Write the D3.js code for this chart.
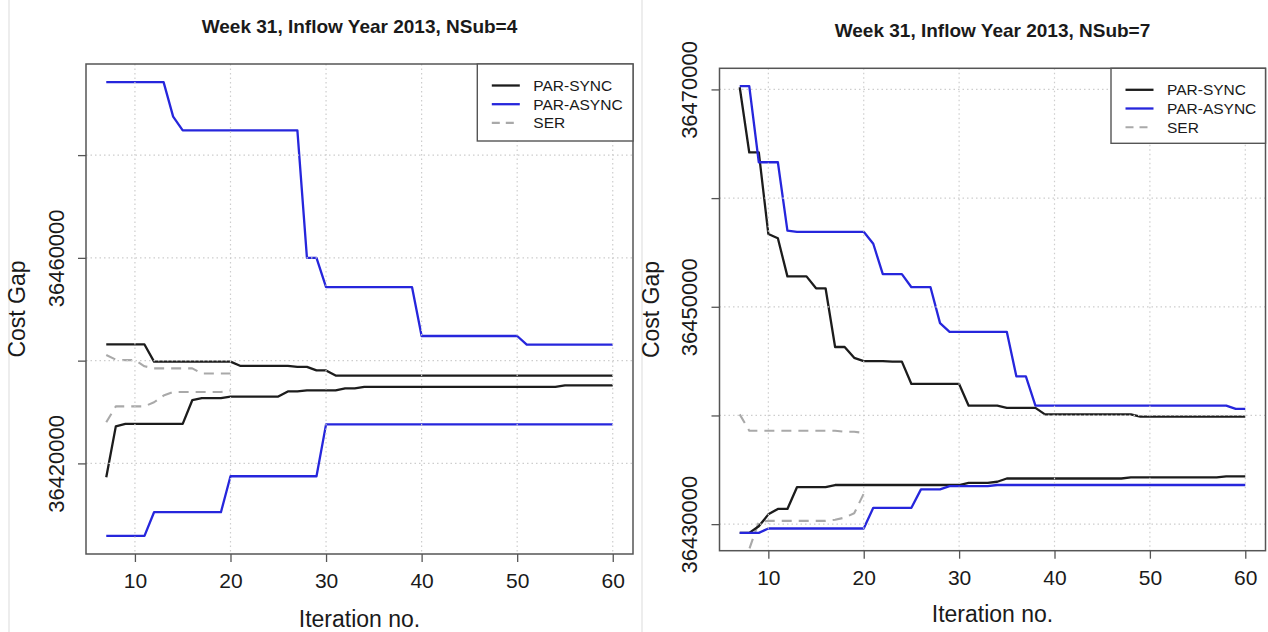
<!DOCTYPE html>
<html>
<head>
<meta charset="utf-8">
<script src="https://cdn.jsdelivr.net/npm/d3@7"></script>
<style>
  body { margin: 0; background: #fff; }
  text { font-family: "Liberation Sans", Arial, sans-serif; fill: #1a1a1a; }
</style>
</head>
<body>
<script>
let FRAME_WIDTH = 1268;
let FRAME_HEIGHT = 632;

// iteration numbers on the x axis
const ITER = [7, 8, 9, 10, 11, 12, 13, 14, 15, 16, 17, 18, 19, 20,
              21, 22, 23, 24, 25, 26, 27, 28, 29, 30, 31, 32, 33, 34, 35, 36, 37, 38, 39, 40,
              41, 42, 43, 44, 45, 46, 47, 48, 49, 50, 51, 52, 53, 54, 55, 56, 57, 58, 59, 60];
const SER_ITER = [7, 8, 9, 10, 11, 12, 13, 14, 15, 16, 17, 18, 19, 20];

// NSub=4 panel, upper and lower bounds per method
const L_SYNC_UP = [
  36443150, 36443150, 36443150, 36443150, 36443150,                                       // 7-11
  36439800, 36439800, 36439800, 36439800, 36439800, 36439800, 36439800, 36439800, 36439800, // 12-20
  36439000, 36439000, 36439000, 36439000, 36439000, 36439000,                             // 21-26
  36438800, 36438800, 36438100, 36438100,                                                 // 27-30
  36437100, 36437100, 36437100, 36437100, 36437100, 36437100, 36437100, 36437100, 36437100, 36437100,
  36437100, 36437100, 36437100, 36437100, 36437100, 36437100, 36437100, 36437100, 36437100, 36437100,
  36437100, 36437100, 36437100, 36437100, 36437100, 36437100, 36437100, 36437100, 36437100, 36437100];
const L_SYNC_LO = [
  36417300, 36427200,                                                     // 7-8
  36427700, 36427700, 36427700, 36427700, 36427700, 36427700, 36427700,   // 9-15
  36432300, 36432700, 36432700, 36432700,                                 // 16-19
  36433000, 36433000, 36433000, 36433000, 36433000, 36433000,             // 20-25
  36434000, 36434000, 36434200, 36434200, 36434200, 36434200,             // 26-31
  36434600, 36434600,                                                     // 32-33
  36434900, 36434900, 36434900, 36434900, 36434900, 36434900, 36434900,   // 34-40
  36434900, 36434900, 36434900, 36434900, 36434900, 36434900, 36434900, 36434900, 36434900, 36434900,
  36434900, 36434900, 36434900, 36434900,                                 // 51-54
  36435200, 36435200, 36435200, 36435200, 36435200, 36435200];            // 55-60
const L_ASYNC_UP = [
  36494200, 36494200, 36494200, 36494200, 36494200, 36494200, 36494200,   // 7-13
  36487500,                                                               // 14
  36484800, 36484800, 36484800, 36484800, 36484800, 36484800,             // 15-20
  36484800, 36484800, 36484800, 36484800, 36484800, 36484800, 36484800,   // 21-27
  36460000, 36460000,                                                     // 28-29
  36454300, 36454300, 36454300, 36454300, 36454300, 36454300, 36454300, 36454300, 36454300, 36454300,
  36444800, 36444800, 36444800, 36444800, 36444800, 36444800, 36444800, 36444800, 36444800, 36444800, 36444800,
  36443100, 36443100, 36443100, 36443100, 36443100, 36443100, 36443100, 36443100, 36443100, 36443100];
const L_ASYNC_LO = [
  36405900, 36405900, 36405900, 36405900, 36405900,                               // 7-11
  36410500, 36410500, 36410500, 36410500, 36410500, 36410500, 36410500, 36410500, // 12-19
  36417500, 36417500, 36417500, 36417500, 36417500, 36417500, 36417500, 36417500, 36417500, 36417500,
  36427600, 36427600, 36427600, 36427600, 36427600, 36427600, 36427600, 36427600, 36427600, 36427600, 36427600,
  36427600, 36427600, 36427600, 36427600, 36427600, 36427600, 36427600, 36427600, 36427600, 36427600,
  36427600, 36427600, 36427600, 36427600, 36427600, 36427600, 36427600, 36427600, 36427600, 36427600];
const L_SER_UP = [36441100, 36440200, 36440100, 36440100, 36438900, 36438500, 36438500,
                  36438500, 36438500, 36438500, 36437500, 36437500, 36437500, 36437500];
const L_SER_LO = [36428000, 36431100, 36431100, 36431100, 36431100, 36431900, 36433200,
                  36433900, 36433900, 36433900, 36433900, 36433900, 36433900, 36434200];

// NSub=7 panel
const R_SYNC_UP = [
  36470200, 36464200, 36464200, 36456700, 36456300,   // 7-11
  36452800, 36452800, 36452800, 36451700, 36451700,   // 12-16
  36446300, 36446300, 36445300, 36445000, 36445000,   // 17-21
  36445000, 36444950, 36444950, 36442900, 36442900,   // 22-26
  36442900, 36442900, 36442900, 36442900, 36440900,   // 27-31
  36440900, 36440900, 36440900, 36440700, 36440700,   // 32-36
  36440700, 36440700, 36440100, 36440100, 36440100,   // 37-41
  36440100, 36440100, 36440100, 36440100, 36440100,   // 42-46
  36440100, 36440100, 36439900, 36439900, 36439900,   // 47-51
  36439900, 36439900, 36439900, 36439900, 36439900, 36439900, 36439900, 36439900, 36439900];
const R_SYNC_LO = [
  36429200, 36429200, 36429800, 36430900, 36431400,   // 7-11
  36431400, 36433400, 36433400, 36433400, 36433400,   // 12-16
  36433600, 36433600, 36433600, 36433600, 36433600, 36433600, 36433600,   // 17-23
  36433600, 36433600, 36433600, 36433600, 36433600, 36433600, 36433600,   // 24-30
  36433800, 36433800, 36433800, 36433900,                                 // 31-34
  36434200, 36434200, 36434200, 36434200, 36434200, 36434200, 36434200,
  36434200, 36434200, 36434200, 36434200, 36434200, 36434200,             // 35-47
  36434300, 36434300, 36434300, 36434300, 36434300, 36434300, 36434300, 36434300, 36434300, 36434300,
  36434400, 36434400, 36434400];                                          // 58-60
const R_ASYNC_UP = [
  36470300, 36470300, 36463300, 36463300, 36463300,   // 7-11
  36457000, 36456900, 36456900, 36456900, 36456900, 36456900, 36456900, 36456900, 36456900, // 12-20
  36455800, 36453000, 36453000, 36453000,             // 21-24
  36451800, 36451800, 36451800, 36448500,             // 25-28
  36447700, 36447700, 36447700, 36447700, 36447700, 36447700, 36447700,   // 29-35
  36443600, 36443600,                                 // 36-37
  36440900, 36440900, 36440900, 36440900, 36440900, 36440900, 36440900,
  36440900, 36440900, 36440900, 36440900, 36440900, 36440900, 36440900,
  36440900, 36440900, 36440900, 36440900, 36440900, 36440900, 36440900,   // 38-58
  36440600, 36440600];
const R_ASYNC_LO = [
  36429200, 36429200, 36429200,                                           // 7-9
  36429600, 36429600, 36429600, 36429600, 36429600, 36429600, 36429600, 36429600, 36429600, 36429600, 36429600,
  36431500, 36431500, 36431500, 36431500, 36431500,                       // 21-25
  36433200, 36433200, 36433200,                                           // 26-28
  36433500, 36433500, 36433500, 36433500, 36433500,                       // 29-33
  36433600, 36433600, 36433600, 36433600, 36433600, 36433600, 36433600, 36433600, 36433600,
  36433600, 36433600, 36433600, 36433600, 36433600, 36433600, 36433600, 36433600, 36433600,
  36433600, 36433600, 36433600, 36433600, 36433600, 36433600, 36433600, 36433600, 36433600];
const R_SER_UP = [36440100, 36438600, 36438600, 36438600, 36438600, 36438600, 36438600,
                  36438600, 36438600, 36438600, 36438600, 36438500, 36438500, 36438400];
const R_SER_LO = [36420000, 36427700, 36430200, 36430300, 36430300, 36430300, 36430300,
                  36430300, 36430300, 36430300, 36430400, 36430600, 36431000, 36432800];

// ticks and labels
const XTICKS = [10, 20, 30, 40, 50, 60];
const L_YTICKS = [36420000, 36440000, 36460000, 36480000];
const L_YLABELS = [36420000, 36460000];
const R_YTICKS = [36430000, 36440000, 36450000, 36460000, 36470000];
const R_YLABELS = [36430000, 36450000, 36470000];
const TITLES = ["Week 31, Inflow Year 2013, NSub=4", "Week 31, Inflow Year 2013, NSub=7"];
const LEGEND_NAMES = ["PAR-SYNC", "PAR-ASYNC", "SER"];

const STYLES = {
  "PAR-SYNC":  {color: "#1c1c1c", width: 2.3, dash: null},
  "PAR-ASYNC": {color: "#2626dc", width: 2.3, dash: null},
  "SER":       {color: "#a9a9a9", width: 2.1, dash: "10,7"}
};

let SVG = d3.select("body")
            .append("svg")
            .attr("width", FRAME_WIDTH)
            .attr("height", FRAME_HEIGHT);

// faint edges of the two pasted images
[9, 642].forEach((x) => {
  SVG.append("line")
     .attr("x1", x).attr("x2", x)
     .attr("y1", 0).attr("y2", FRAME_HEIGHT)
     .attr("stroke", "#ededed")
     .attr("stroke-width", 2);
});

const PANELS = [
  {id: "p4", box: {left: 86, right: 633, top: 64, bottom: 554}, title: TITLES[0], titleY: 33,
   xlabY: 627, legend: {x: 477.3, w: 155.7, h: 77},
   yTicks: L_YTICKS, yLabels: L_YLABELS,
   series: [
     {name: "SER", x: SER_ITER, up: L_SER_UP, lo: L_SER_LO},
     {name: "PAR-SYNC", x: ITER, up: L_SYNC_UP, lo: L_SYNC_LO},
     {name: "PAR-ASYNC", x: ITER, up: L_ASYNC_UP, lo: L_ASYNC_LO}
   ]},
  {id: "p7", box: {left: 719.5, right: 1265.5, top: 68.3, bottom: 550.7}, title: TITLES[1], titleY: 37.3,
   xlabY: 622, legend: {x: 1111, w: 154.5, h: 75},
   yTicks: R_YTICKS, yLabels: R_YLABELS,
   series: [
     {name: "SER", x: SER_ITER, up: R_SER_UP, lo: R_SER_LO},
     {name: "PAR-SYNC", x: ITER, up: R_SYNC_UP, lo: R_SYNC_LO},
     {name: "PAR-ASYNC", x: ITER, up: R_ASYNC_UP, lo: R_ASYNC_LO}
   ]}
];

// R style 4% padding of the data range
function padded(ext) {
  let pad = (ext[1] - ext[0]) * 0.04;
  return [ext[0] - pad, ext[1] + pad];
}

PANELS.forEach((p) => {
  let b = p.box;
  let g = SVG.append("g");

  const X_SCALE = d3.scaleLinear()
                    .domain(padded(d3.extent(ITER)))
                    .range([b.left, b.right]);

  // y limits come from the parallel runs only
  let parVals = p.series.filter((s) => s.name != "SER").flatMap((s) => s.up.concat(s.lo));
  const Y_SCALE = d3.scaleLinear()
                    .domain(padded(d3.extent(parVals)))
                    .range([b.bottom, b.top]);

  g.append("clipPath").attr("id", "clip-" + p.id)
   .append("rect")
     .attr("x", b.left).attr("y", b.top)
     .attr("width", b.right - b.left).attr("height", b.bottom - b.top);

  // the bound lines
  let lines = g.append("g").attr("clip-path", "url(#clip-" + p.id + ")");
  p.series.forEach((s) => {
    let st = STYLES[s.name];
    [s.up, s.lo].forEach((vals) => {
      let line = d3.line()
                   .x((d, i) => X_SCALE(s.x[i]))
                   .y((d) => Y_SCALE(d));
      lines.append("path")
           .datum(vals)
           .attr("d", line)
           .attr("fill", "none")
           .attr("stroke", st.color)
           .attr("stroke-width", st.width)
           .attr("stroke-dasharray", st.dash)
           .attr("stroke-linejoin", "round");
    });
  });

  // grid is drawn over the lines, as in the original
  let grid = g.append("g")
              .attr("stroke", "#cdcdcd")
              .attr("stroke-width", 1.2)
              .attr("stroke-dasharray", "1.5,3");
  grid.selectAll(".gx").data(XTICKS).enter().append("line")
      .attr("x1", (d) => X_SCALE(d)).attr("x2", (d) => X_SCALE(d))
      .attr("y1", b.top).attr("y2", b.bottom);
  grid.selectAll(".gy").data(p.yTicks).enter().append("line")
      .attr("x1", b.left).attr("x2", b.right)
      .attr("y1", (d) => Y_SCALE(d)).attr("y2", (d) => Y_SCALE(d));

  // x axis
  let xAxis = g.append("g")
               .attr("transform", "translate(0," + b.bottom + ")")
               .call(d3.axisBottom(X_SCALE).tickValues(XTICKS).tickSize(8));
  xAxis.select(".domain").remove();
  xAxis.selectAll("line").attr("stroke", "#555").attr("stroke-width", 1.3);
  xAxis.selectAll("text")
       .attr("y", 34).attr("dy", 0)
       .attr("font-size", "21px")
       .attr("font-family", "Liberation Sans, Arial, sans-serif")
       .attr("fill", "#1a1a1a");

  // y axis, labels parallel to the axis
  let yAxis = g.append("g")
               .attr("transform", "translate(" + b.left + ",0)")
               .call(d3.axisLeft(Y_SCALE).tickValues(p.yTicks).tickSize(8)
                       .tickFormat((d) => p.yLabels.includes(d) ? d3.format("d")(d) : ""));
  yAxis.select(".domain").remove();
  yAxis.selectAll("line").attr("stroke", "#555").attr("stroke-width", 1.3);
  yAxis.selectAll("text")
       .attr("x", 0).attr("y", -22.5).attr("dy", 0)
       .attr("transform", "rotate(-90)")
       .attr("text-anchor", "middle")
       .attr("font-size", "22px")
       .attr("font-family", "Liberation Sans, Arial, sans-serif")
       .attr("fill", "#1a1a1a");

  // plot box
  g.append("rect")
   .attr("x", b.left).attr("y", b.top)
   .attr("width", b.right - b.left).attr("height", b.bottom - b.top)
   .attr("fill", "none")
   .attr("stroke", "#555")
   .attr("stroke-width", 1.5);

  // titles and axis names
  g.append("text")
   .attr("x", (b.left + b.right) / 2).attr("y", p.titleY)
   .attr("text-anchor", "middle")
   .attr("font-weight", "bold")
   .attr("font-size", "19px")
   .text(p.title);

  g.append("text")
   .attr("x", (b.left + b.right) / 2).attr("y", p.xlabY)
   .attr("text-anchor", "middle")
   .attr("font-size", "23px")
   .text("Iteration no.");

  g.append("text")
   .attr("transform", "translate(" + (b.left - 61) + "," + ((b.top + b.bottom) / 2) + ") rotate(-90)")
   .attr("text-anchor", "middle")
   .attr("font-size", "23px")
   .text("Cost Gap");

  // legend
  let lg = g.append("g").attr("transform", "translate(" + p.legend.x + "," + b.top + ")");
  lg.append("rect")
    .attr("width", p.legend.w).attr("height", p.legend.h)
    .attr("fill", "white")
    .attr("stroke", "#555")
    .attr("stroke-width", 1.4);
  LEGEND_NAMES.forEach((name, i) => {
    let st = STYLES[name];
    let y = 21.5 + i * 18.7;
    lg.append("line")
      .attr("x1", 14.5).attr("x2", 42.5)
      .attr("y1", y).attr("y2", y)
      .attr("stroke", st.color)
      .attr("stroke-width", st.width)
      .attr("stroke-dasharray", st.dash ? "8,6" : null);
    lg.append("text")
      .attr("x", 56).attr("y", y + 5.5)
      .attr("font-size", "15.5px")
      .attr("fill", "#222")
      .text(name);
  });
});
</script>
</body>
</html>
